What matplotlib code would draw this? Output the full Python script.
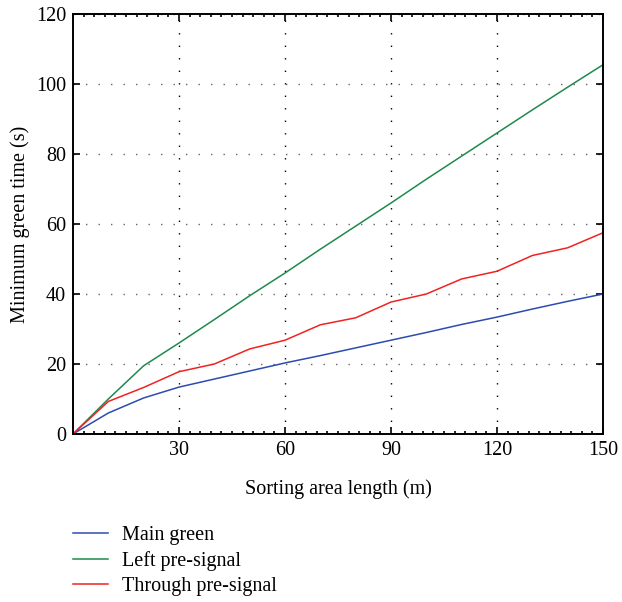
import matplotlib
matplotlib.use("Agg")
import matplotlib.pyplot as plt
from matplotlib.ticker import MultipleLocator

# ── Data ─────────────────────────────────────────────────────────────────────
length = [0, 10, 20, 30, 40, 50, 60, 70, 80, 90, 100, 110, 120, 130, 140, 150]
main_green = [0, 6.0, 10.3, 13.4, 15.7, 18.0, 20.3, 22.4, 24.6, 26.8,
              29.0, 31.3, 33.4, 35.7, 37.9, 40.0]
left_pre = [0, 10.0, 19.5, 26.0, 32.7, 39.5, 46.0, 52.8, 59.4, 66.0,
            72.8, 79.4, 86.0, 92.6, 99.1, 105.5]
through_pre = [0, 9.3, 13.3, 17.8, 20.0, 24.3, 26.8, 31.2, 33.2, 37.7,
               40.0, 44.3, 46.5, 51.0, 53.2, 57.5]

series = [
    ("Main green", main_green, "#2c4bb0"),
    ("Left pre-signal", left_pre, "#1e8a4e"),
    ("Through pre-signal", through_pre, "#f02222"),
]

plt.rcParams["font.family"] = ["Liberation Serif", "DejaVu Serif"]
plt.rcParams["font.size"] = 14.5

W, H = 622, 602
fig = plt.figure(figsize=(W / 100, H / 100), dpi=100)
ax = fig.add_axes([73 / W, (H - 434) / H, (603 - 73) / W, (434 - 14) / H])

for label, vals, color in series:
    ax.plot(length, vals, color=color, lw=1.1, label=label)

ax.set_xlim(0, 150)
ax.set_ylim(0, 120)
ax.set_xticks([30, 60, 90, 120, 150])
ax.set_yticks([0, 20, 40, 60, 80, 100, 120])
ax.xaxis.set_minor_locator(MultipleLocator(3))
ax.tick_params(which="both", direction="in", top=True, right=True, width=1.2)
ax.tick_params(which="major", length=5, pad=5)
ax.tick_params(which="minor", length=2.5)
for sp in ax.spines.values():
    sp.set_linewidth(1.4)

ax.xaxis.grid(True, color="black", lw=1.0, linestyle=(0, (1, 8)))
ax.yaxis.grid(True, color="#666666", lw=1.0, linestyle=(0, (1, 8)))

ax.set_xlabel("Sorting area length (m)", labelpad=14)
ax.set_ylabel("Minimum green time (s)", labelpad=4)

fig.legend(loc="upper left", bbox_to_anchor=(73 / W, (H - 526) / H),
           frameon=False, borderpad=0, borderaxespad=0,
           handlelength=1.75, handletextpad=0.7, labelspacing=0.3)

fig.savefig("out.png", dpi=100)
